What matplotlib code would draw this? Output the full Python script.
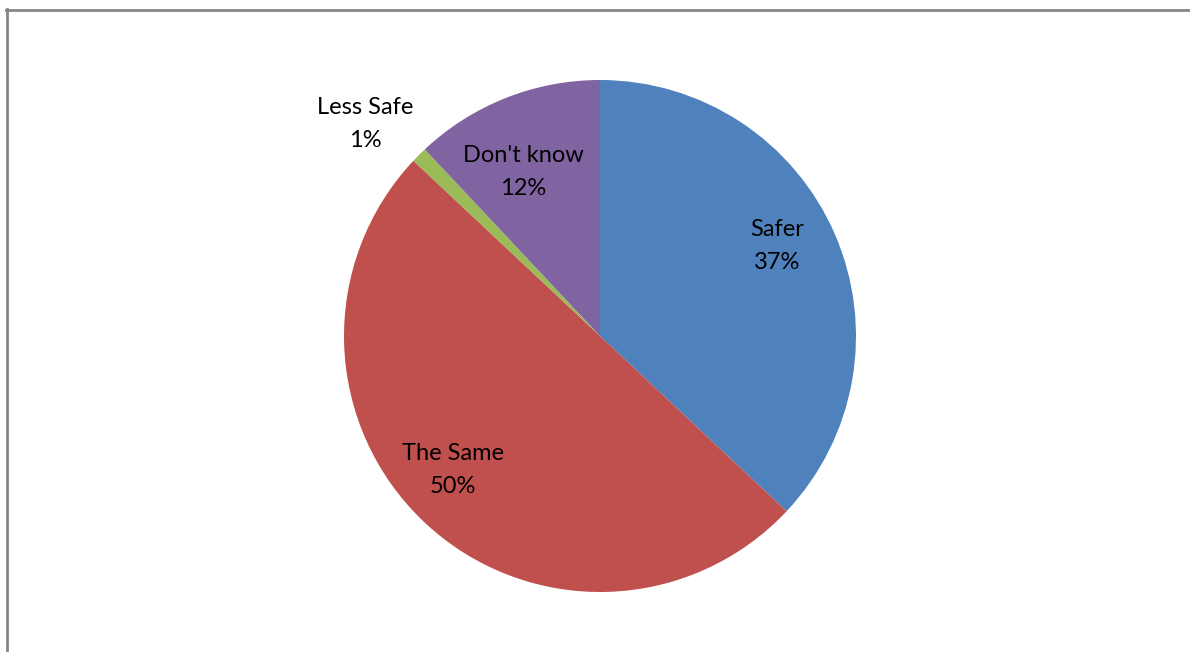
import matplotlib.pyplot as plt
from matplotlib.lines import Line2D

# survey answers
labels = ["Safer", "The Same", "Less Safe", "Don't know"]
values = [37, 50, 1, 12]
colors = ["#4F81BD", "#C0504D", "#9BBB59", "#8064A2"]
# where each label sits (pixels, y from top)
label_pos = [(777, 246), (453, 470), (365, 124), (523, 172)]

W, H = 1190, 652
fig = plt.figure(figsize=(W / 100, H / 100), dpi=100)
ax = fig.add_axes([0, 0, 1, 1])

ax.pie(values, colors=colors, startangle=90, counterclock=False,
       center=(600, H - 336), radius=256, frame=True,
       wedgeprops=dict(linewidth=0))
ax.set_xlim(0, W)
ax.set_ylim(0, H)
ax.set_aspect("equal")
ax.axis("off")

for lab, v, (x, y) in zip(labels, values, label_pos):
    ax.text(x, H - y, f"{lab}\n{v}%", ha="center", va="center",
            fontsize=17, family="Lato", linespacing=1.7, color="black")

# chart area border (left and top only visible)
fig.add_artist(Line2D([6.5 / W, 6.5 / W], [0, 1 - 9 / H], transform=fig.transFigure,
                      color="#868686", lw=2))
fig.add_artist(Line2D([6 / W, 1], [1 - 9.5 / H, 1 - 9.5 / H], transform=fig.transFigure,
                      color="#868686", lw=2))

plt.savefig("out.png", dpi=100)
